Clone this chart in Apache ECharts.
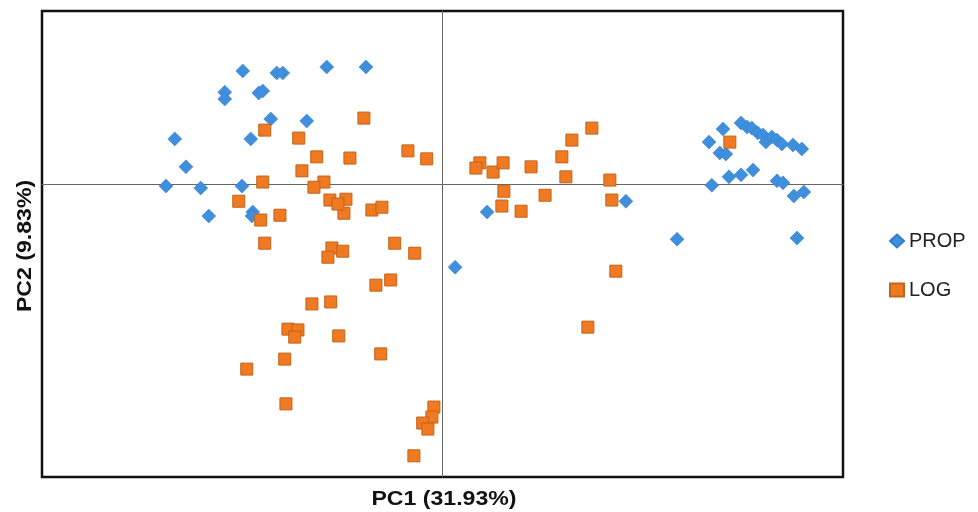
<!DOCTYPE html>
<html>
<head>
<meta charset="utf-8">
<script src="https://cdn.jsdelivr.net/npm/echarts@6/dist/echarts.min.js"></script>
<style>html,body{margin:0;padding:0;background:#fff}#c{width:978px;height:512px}</style>
</head>
<body>
<div id="c"></div>
<script>
const seriesNames = ['PROP', 'LOG'];
const axisTitles = ['PC1 (31.93%)', 'PC2 (9.83%)'];
const propPoints = [
  [-4.98, 2.83], [-4.13, 2.78], [-3.98, 2.78], [-2.88, 2.93], [-1.90, 2.93],
  [-5.43, 2.30], [-5.43, 2.13], [-4.58, 2.28], [-4.48, 2.33], [-4.28, 1.63],
  [-3.38, 1.58], [-6.68, 1.13], [-4.78, 1.13], [-6.40, 0.43], [-6.90, -0.05],
  [-6.03, -0.10], [-5.00, -0.05], [-5.83, -0.80], [-4.73, -0.70], [-4.75, -0.80],
  [0.33, -2.08], [1.13, -0.70], [4.60, -0.43], [5.88, -1.38], [6.68, 1.05],
  [7.03, 1.38], [6.95, 0.78], [7.10, 0.75], [7.48, 1.53], [7.63, 1.43],
  [7.75, 1.40], [7.90, 1.28], [8.03, 1.23], [8.10, 1.05], [8.25, 1.18],
  [8.38, 1.10], [8.50, 1.00], [8.78, 0.98], [9.00, 0.88], [6.75, -0.03],
  [7.18, 0.18], [7.48, 0.23], [7.78, 0.35], [8.38, 0.08], [8.53, 0.03],
  [8.80, -0.30], [9.05, -0.20], [8.88, -1.35]
];
const logPoints = [
  [-4.43, 1.35], [-3.58, 1.15], [-1.95, 1.65], [-3.13, 0.68], [-2.30, 0.65],
  [-0.85, 0.83], [-0.38, 0.63], [-3.50, 0.33], [-4.48, 0.05], [-2.95, 0.05],
  [-3.20, -0.08], [-5.08, -0.43], [-2.80, -0.40], [-2.40, -0.38], [-2.45, -0.73],
  [-2.60, -0.50], [-1.75, -0.65], [-1.50, -0.58], [-4.05, -0.78], [-4.53, -0.90],
  [-4.43, -1.48], [-1.18, -1.48], [-0.68, -1.73], [-2.75, -1.60], [-2.48, -1.68],
  [-2.85, -1.83], [-1.65, -2.53], [-1.28, -2.40], [-3.25, -3.00], [-2.78, -2.95],
  [-3.85, -3.63], [-3.60, -3.65], [-3.68, -3.83], [-2.58, -3.80], [-3.93, -4.38],
  [-1.53, -4.25], [-4.88, -4.63], [-3.90, -5.50], [-0.20, -5.58], [-0.25, -5.83],
  [-0.48, -5.98], [-0.35, -6.13], [-0.70, -6.80], [0.95, 0.53], [0.85, 0.40],
  [1.28, 0.30], [1.53, 0.53], [2.23, 0.43], [3.00, 0.68], [3.25, 1.10],
  [3.75, 1.40], [3.10, 0.18], [4.20, 0.10], [1.55, -0.18], [2.58, -0.28],
  [1.50, -0.55], [1.98, -0.68], [4.25, -0.40], [7.20, 1.05], [4.35, -2.18],
  [3.65, -3.58]
];
const xRange = [-10, 10.03];
const yRange = [-7.33, 4.33];

const chart = echarts.init(document.getElementById('c'));
const titleFont = 'bold 21px "Liberation Sans", Arial, sans-serif';
chart.setOption({
  animation: false,
  backgroundColor: '#ffffff',
  grid: { left: 42, top: 11, right: 135, bottom: 35, show: true, borderColor: '#111', borderWidth: 2.5, backgroundColor: 'transparent' },
  xAxis: {
    type: 'value', min: xRange[0], max: xRange[1],
    axisLine: { onZero: true, lineStyle: { color: '#666', width: 1 } },
    axisTick: { show: false }, axisLabel: { show: false }, splitLine: { show: false }
  },
  yAxis: {
    type: 'value', min: yRange[0], max: yRange[1],
    axisLine: { onZero: true, lineStyle: { color: '#666', width: 1 } },
    axisTick: { show: false }, axisLabel: { show: false }, splitLine: { show: false }
  },
  legend: {
    orient: 'vertical', left: 884, top: 226, itemGap: 29,
    itemWidth: 14, itemHeight: 13,
    textStyle: { fontSize: 20, color: '#222', fontFamily: '"Liberation Sans", Arial, sans-serif' },
    data: [
      { name: seriesNames[0], icon: 'diamond' },
      { name: seriesNames[1], icon: 'rect' }
    ]
  },
  graphic: [
    { type: 'text', x: 444, y: 499, scaleX: 1.1,
      style: { text: axisTitles[0], font: titleFont, fill: '#111', align: 'center', verticalAlign: 'middle' } },
    { type: 'text', x: 25, y: 246, rotation: Math.PI / 2, scaleX: 1.1,
      style: { text: axisTitles[1], font: titleFont, fill: '#111', align: 'center', verticalAlign: 'middle' } }
  ],
  series: [
    {
      name: seriesNames[0], type: 'scatter', symbol: 'diamond', symbolSize: 14,
      itemStyle: { color: '#3f8fdc', borderColor: '#2f7fcf', borderWidth: 0.5, opacity: 1 },
      data: propPoints
    },
    {
      name: seriesNames[1], type: 'scatter', symbol: 'rect', symbolSize: 12,
      itemStyle: { color: '#f07a22', borderColor: '#c4621a', borderWidth: 1, opacity: 1 },
      data: logPoints
    }
  ]
});
</script>
</body>
</html>
